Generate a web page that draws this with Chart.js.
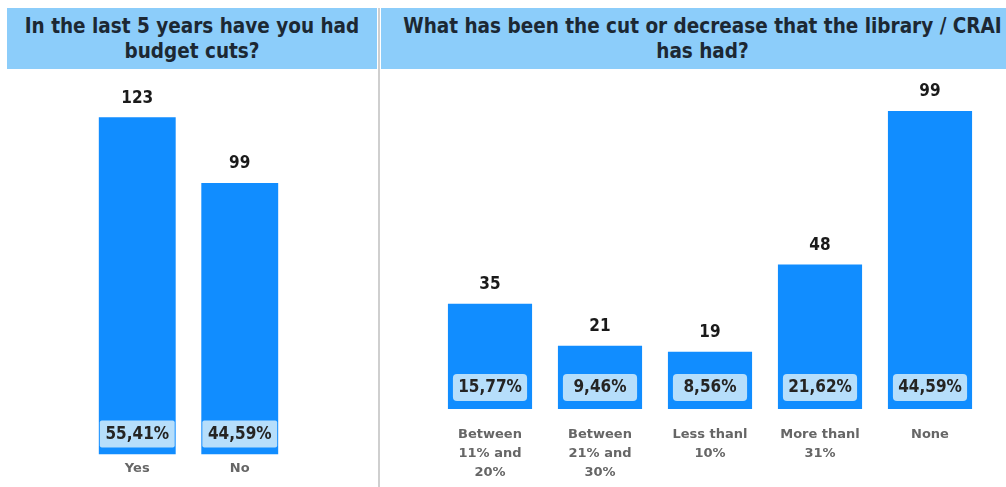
<!DOCTYPE html>
<html>
<head>
<meta charset="utf-8">
<script src="https://cdn.jsdelivr.net/npm/chart.js@4.4.0/dist/chart.umd.min.js"></script>
<style>
  html, body { margin: 0; padding: 0; background: #fff; overflow: hidden; }
  body { width: 1006px; height: 487px; position: relative; }
  .head {
    position: absolute; top: 8px; height: 61px; background: #8ccdfa;
    color: #1c2833; font: bold 20.5px "DejaVu Sans Condensed", sans-serif;
    text-align: center; line-height: 25px; display: flex; align-items: center; justify-content: center;
  }
  #sep { position: absolute; left: 378px; top: 8px; width: 2px; height: 479px; background: #cfcfcf; }
  canvas { position: absolute; }
</style>
</head>
<body>
<div class="head" style="left:7px; width:370px;">In the last 5 years have you had<br>budget cuts?</div>
<div class="head" style="left:381px; width:643px;">What has been the cut or decrease that the library / CRAI<br>has had?</div>
<div id="sep"></div>
<canvas id="cuts" width="370" height="423" style="left:8px; top:70px;"></canvas>
<canvas id="size" width="625" height="434" style="left:381px; top:70px;"></canvas>
<script>
// survey answers
const cutAnswers = ["Yes", "No"];
const cutCounts = [123, 99];

const sizeAnswers = [
  ["Between", "11% and", "20%"],
  ["Between", "21% and", "30%"],
  ["Less thanl", "10%"],
  ["More thanl", "31%"],
  "None"
];
const sizeCounts = [35, 21, 19, 48, 99];

const BLUE = "#118dff";

// count above each bar, share of the total in a box near the bottom
const barLabels = {
  id: "barLabels",
  afterDatasetsDraw(chart, args, opts) {
    const ctx = chart.ctx;
    const values = chart.data.datasets[0].data;
    const total = values.reduce((a, b) => a + b, 0);
    chart.getDatasetMeta(0).data.forEach((bar, i) => {
      const half = bar.width / 2;
      ctx.save();
      ctx.textAlign = "center";
      ctx.textBaseline = "middle";
      ctx.fillStyle = "#1a1a1a";
      ctx.font = "bold 17px 'DejaVu Sans Condensed', sans-serif";
      ctx.fillText(values[i], bar.x, bar.y - 19);

      const bx = bar.x - half + opts.inset;
      const bw = bar.width - opts.inset * 2;
      const by = bar.base - opts.lift - 27;
      ctx.fillStyle = "#b6defb";
      ctx.beginPath();
      ctx.roundRect(bx, by, bw, 27, opts.radius);
      ctx.fill();
      ctx.fillStyle = "#252423";
      ctx.font = "bold 17px 'DejaVu Sans Condensed', sans-serif";
      const pct = (values[i] / total * 100).toFixed(2).replace(".", ",") + "%";
      ctx.fillText(pct, bar.x, by + 14);
      ctx.restore();
    });
  }
};

function makeChart(id, labels, values, cfg) {
  return new Chart(document.getElementById(id), {
    type: "bar",
    data: {
      labels: labels,
      datasets: [{
        data: values,
        backgroundColor: BLUE,
        barPercentage: cfg.barPct,
        categoryPercentage: 1
      }]
    },
    options: {
      responsive: false,
      animation: false,
      devicePixelRatio: 1,
      layout: { padding: cfg.padding },
      plugins: {
        legend: { display: false },
        tooltip: { enabled: false },
        barLabels: cfg.boxes
      },
      scales: {
        x: {
          grid: { display: false, drawTicks: false },
          border: { display: false },
          ticks: {
            color: "#666666",
            padding: cfg.tickPad,
            font: { family: "DejaVu Sans", weight: "bold", size: 13, lineHeight: cfg.lineHeight }
          }
        },
        y: { display: false, min: 0, max: cfg.max }
      }
    },
    plugins: [barLabels]
  });
}

makeChart("cuts", cutAnswers, cutCounts, {
  barPct: 0.75, max: 130, tickPad: 6, lineHeight: 1.2,
  padding: { left: 78, right: 87, top: 28, bottom: 11 },
  boxes: { inset: 1, lift: 7, radius: 2 }
});

makeChart("size", sizeAnswers, sizeCounts, {
  barPct: 0.765, max: 100, tickPad: 16, lineHeight: 19 / 13,
  padding: { left: 54, right: 21, top: 38, bottom: 6 },
  boxes: { inset: 5, lift: 8, radius: 4 }
});
</script>
</body>
</html>
